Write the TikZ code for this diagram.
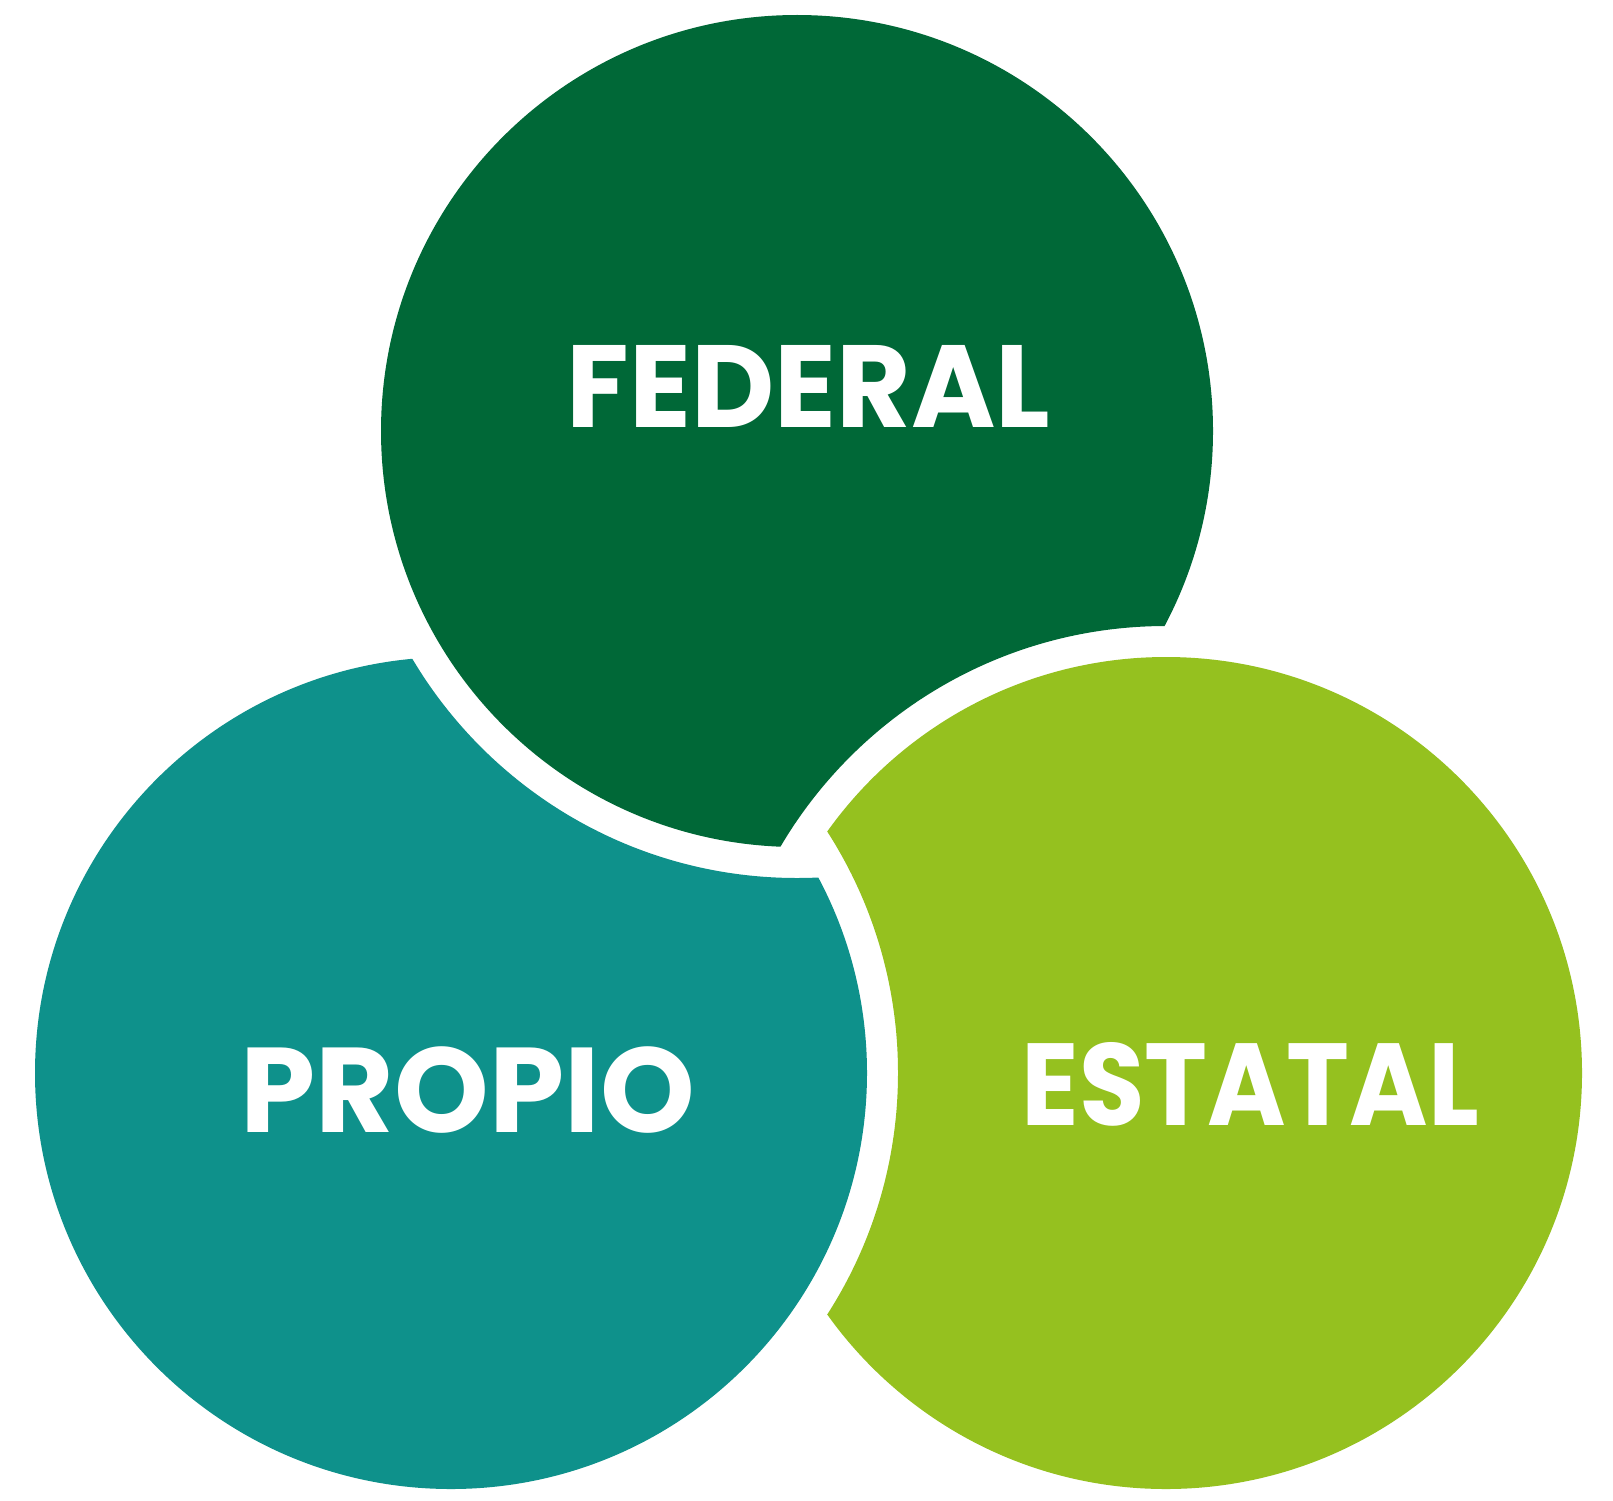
\documentclass[tikz,border=0pt]{standalone}
\usepackage{fontspec}
\setmainfont{Poppins}
\usepackage{graphicx}
\definecolor{fedgreen}{HTML}{006837}
\definecolor{propteal}{HTML}{0E918B}
\definecolor{estgreen}{HTML}{95C11F}
\begin{document}
\begin{tikzpicture}[x=0.01cm,y=-0.01cm,
  lbl/.style={text=white,font=\bfseries,inner sep=0pt,anchor=base west}]
\def\R{416}
\def\Rg{447}
\useasboundingbox[fill=white] (0,0) rectangle (1613,1500);
\coordinate (cf) at (797,431);
\coordinate (ct) at (451,1073);
\coordinate (cg) at (1166,1073);
% federal, cut by estatal
\begin{scope}[even odd rule]
  \clip (-10,-10) rectangle (1623,1510) (cg) circle (\Rg);
  \fill[fedgreen] (cf) circle (\R);
\end{scope}
% estatal, cut by propio
\begin{scope}[even odd rule]
  \clip (-10,-10) rectangle (1623,1510) (ct) circle (\Rg);
  \fill[estgreen] (cg) circle (\R);
\end{scope}
% propio, cut by federal
\begin{scope}[even odd rule]
  \clip (-10,-10) rectangle (1623,1510) (cf) circle (\Rg);
  \fill[propteal] (ct) circle (\R);
\end{scope}
\node[lbl] (fed) at (566,427) {\resizebox{4.835cm}{0.82cm}{FEDERAL}};
\node[lbl] (pro) at (240,1132) {\resizebox{4.536cm}{!}{PROPIO}};
\node[lbl] (est) at (1021,1125) {\resizebox{4.567cm}{0.83cm}{ESTATAL}};
\end{tikzpicture}
\end{document}
